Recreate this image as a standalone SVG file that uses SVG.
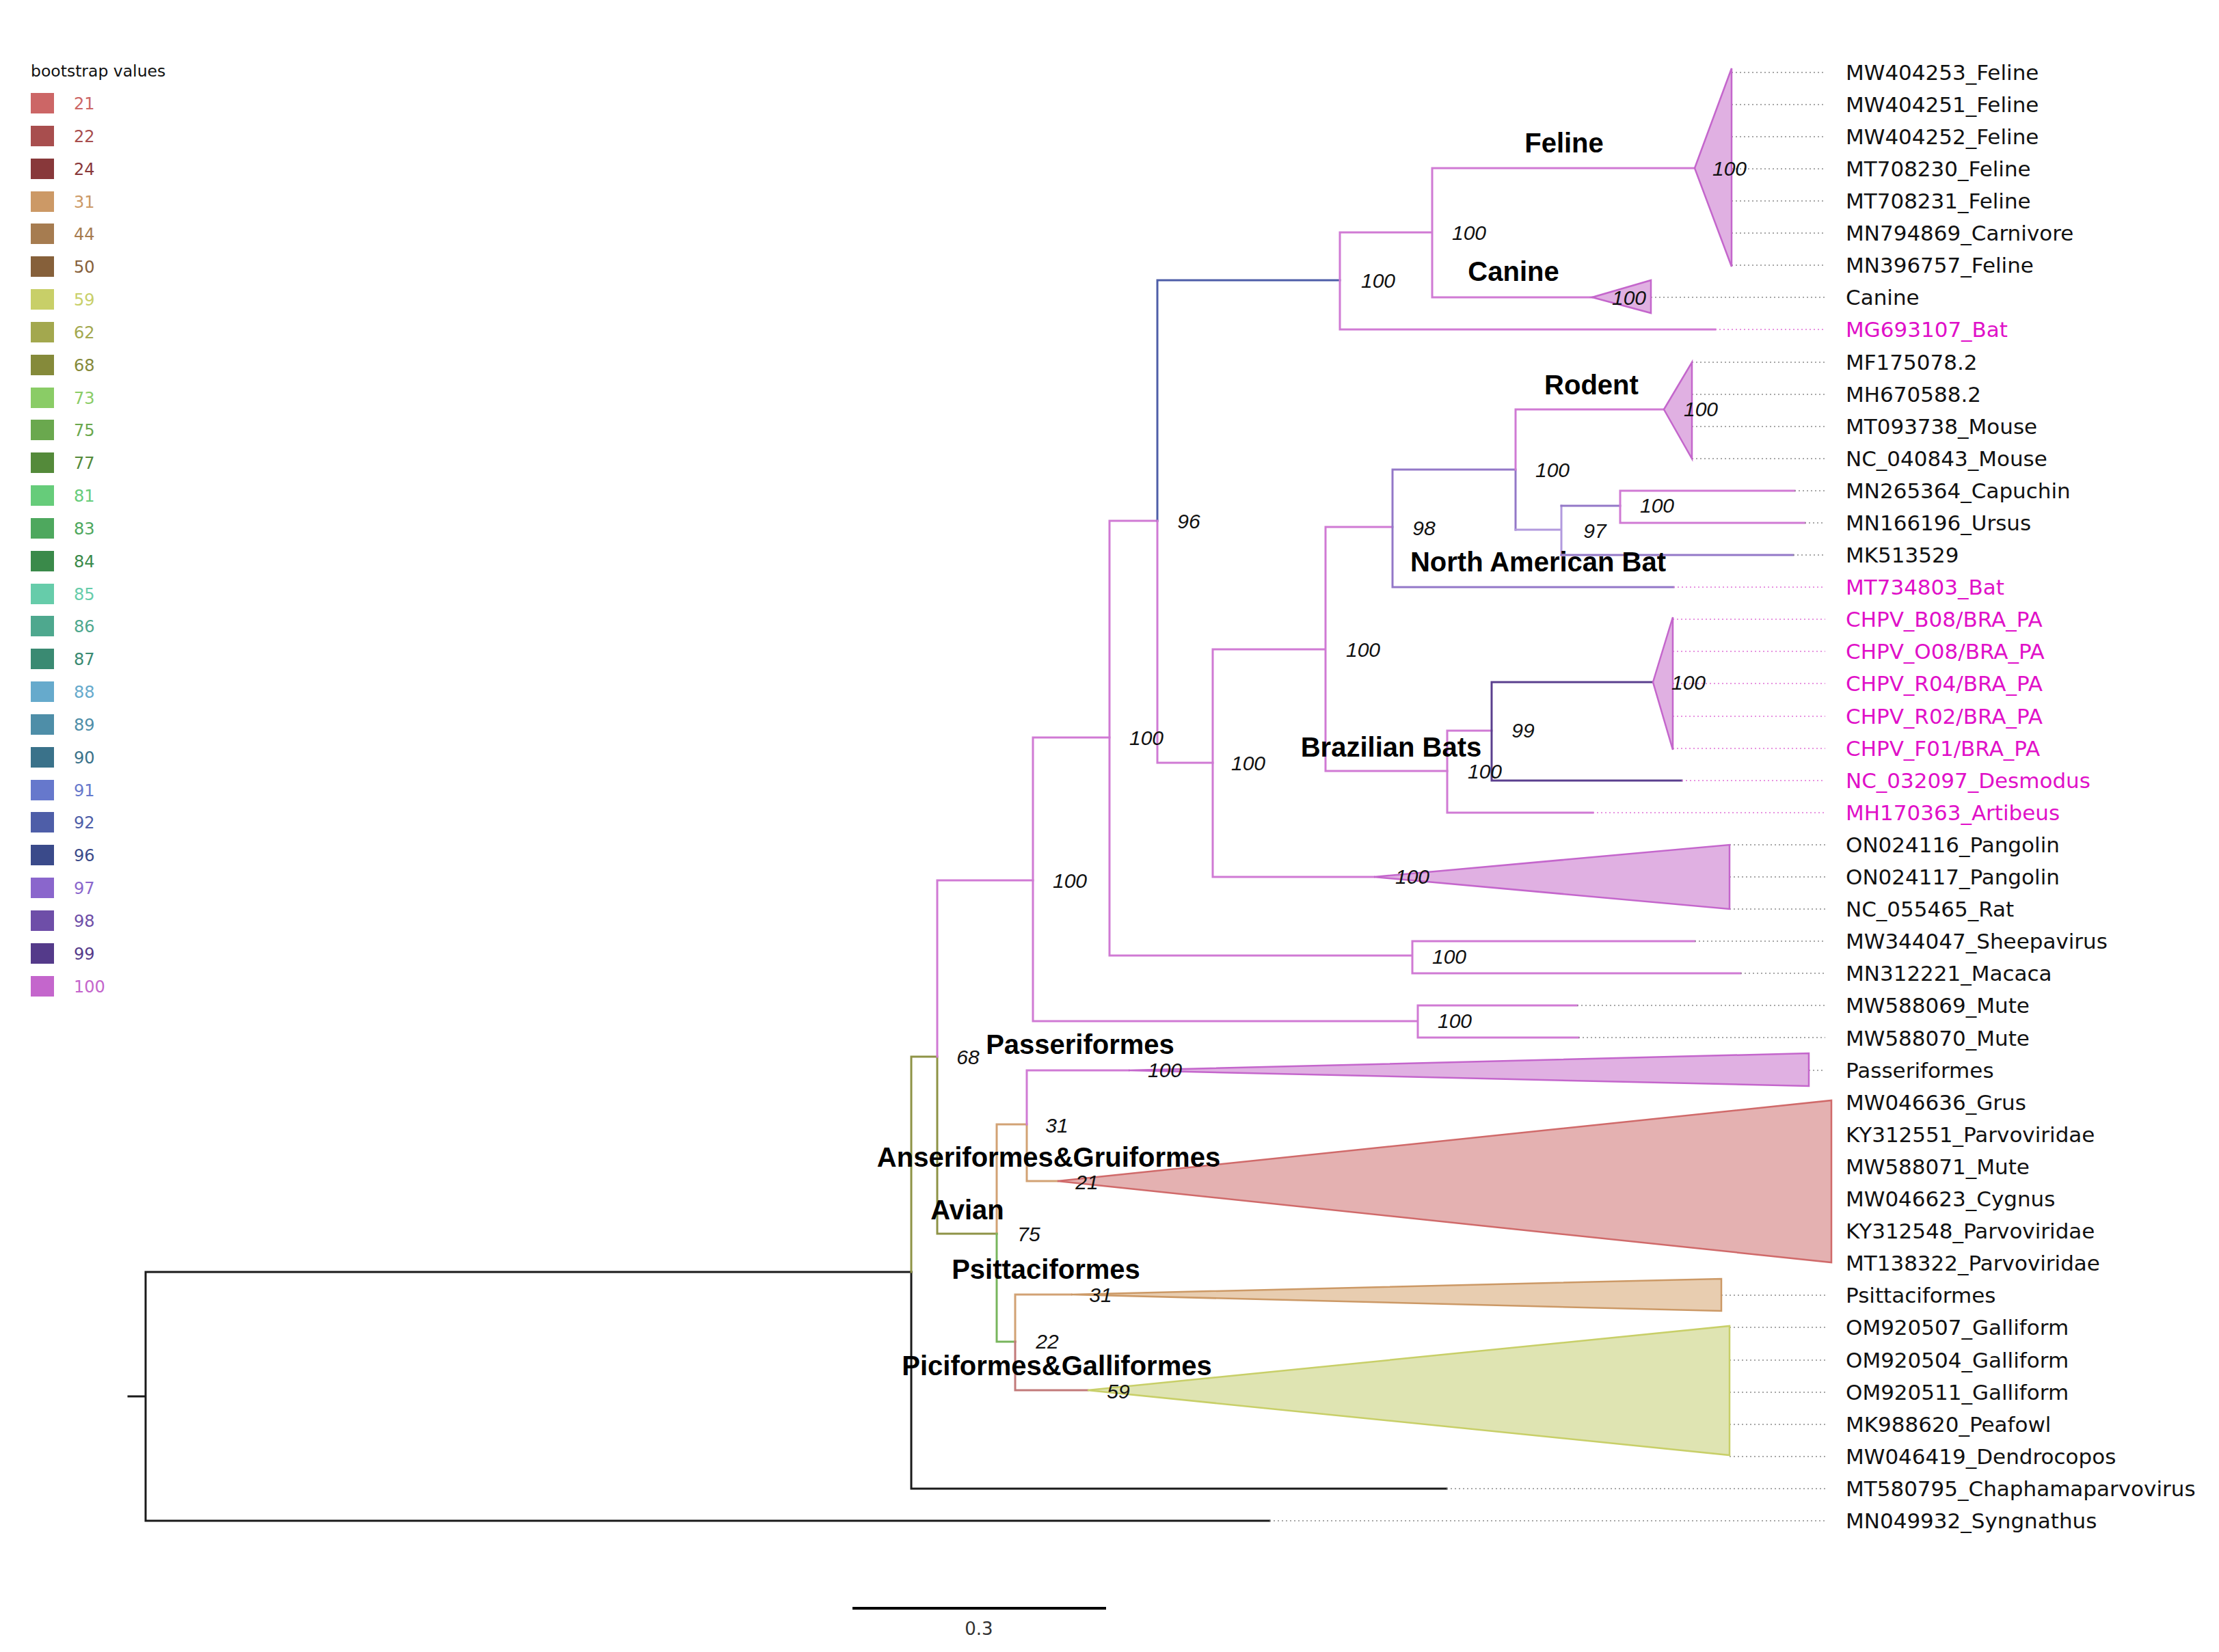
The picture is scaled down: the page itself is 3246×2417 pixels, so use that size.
<svg xmlns="http://www.w3.org/2000/svg" width="3246" height="2417" viewBox="0 0 3246 2417">
<style>
.br{fill:none;stroke-width:3;stroke-linecap:square}
.k{stroke:#1a1a1a}.p{stroke:#d07ad4}.b{stroke:#4e5ea8}.pu{stroke:#9378c8}.lpu{stroke:#b29ade}.dpu{stroke:#5a3f8e}
.ol{stroke:#8e9346}.tan{stroke:#d2a274}.gr{stroke:#78b55c}.rd{stroke:#c27a7a}
.ld{fill:none;stroke:#8a8a8a;stroke-width:1.6;stroke-dasharray:2 4}
.ldp{fill:none;stroke:#e070d6;stroke-width:1.6;stroke-dasharray:2 4}
.leaf{font-family:"DejaVu Sans",Verdana,sans-serif;font-size:31px;fill:#111}
.mag{fill:#e010c8}
.bs{font-family:"Liberation Sans",Arial,sans-serif;font-style:italic;font-size:30px;fill:#111;text-anchor:middle}
.cl{font-family:"Liberation Sans",Arial,sans-serif;font-weight:bold;font-size:40px;fill:#000;text-anchor:middle}
.lg{font-family:"DejaVu Sans",Verdana,sans-serif;font-size:24px}
.tp{fill:#e0b0e2;stroke:#c466cc;stroke-width:2.5}
.tr{fill:#e4b1b1;stroke:#d06a6a;stroke-width:2.5}
.tt{fill:#e8cdb0;stroke:#cc9966;stroke-width:2.5}
.ty{fill:#dfe4b2;stroke:#c8cf68;stroke-width:2.5}
</style>
<rect width="3246" height="2417" fill="#fff"/>

<g id="legend">
<text x="45" y="112" font-family="DejaVu Sans, Verdana, sans-serif" font-size="23.5" fill="#111">bootstrap values</text>
<g class="lg">
<rect x="45" y="136" width="34" height="30" fill="#cc6666"/><text x="108" y="160" fill="#cc6666">21</text>
<rect x="45" y="184" width="34" height="30" fill="#a84e4e"/><text x="108" y="208" fill="#a84e4e">22</text>
<rect x="45" y="232" width="34" height="30" fill="#88383a"/><text x="108" y="256" fill="#88383a">24</text>
<rect x="45" y="280" width="34" height="30" fill="#cc9966"/><text x="108" y="304" fill="#cc9966">31</text>
<rect x="45" y="327" width="34" height="30" fill="#a67c50"/><text x="108" y="351" fill="#a67c50">44</text>
<rect x="45" y="375" width="34" height="30" fill="#86603a"/><text x="108" y="399" fill="#86603a">50</text>
<rect x="45" y="423" width="34" height="30" fill="#c8cf68"/><text x="108" y="447" fill="#c8cf68">59</text>
<rect x="45" y="471" width="34" height="30" fill="#a3a84e"/><text x="108" y="495" fill="#a3a84e">62</text>
<rect x="45" y="519" width="34" height="30" fill="#858a3a"/><text x="108" y="543" fill="#858a3a">68</text>
<rect x="45" y="567" width="34" height="30" fill="#8acc66"/><text x="108" y="591" fill="#8acc66">73</text>
<rect x="45" y="614" width="34" height="30" fill="#6aa84e"/><text x="108" y="638" fill="#6aa84e">75</text>
<rect x="45" y="662" width="34" height="30" fill="#548a3a"/><text x="108" y="686" fill="#548a3a">77</text>
<rect x="45" y="710" width="34" height="30" fill="#66cc7a"/><text x="108" y="734" fill="#66cc7a">81</text>
<rect x="45" y="758" width="34" height="30" fill="#4ea85e"/><text x="108" y="782" fill="#4ea85e">83</text>
<rect x="45" y="806" width="34" height="30" fill="#3a8a4a"/><text x="108" y="830" fill="#3a8a4a">84</text>
<rect x="45" y="854" width="34" height="30" fill="#66ccaa"/><text x="108" y="878" fill="#66ccaa">85</text>
<rect x="45" y="901" width="34" height="30" fill="#4ea88e"/><text x="108" y="925" fill="#4ea88e">86</text>
<rect x="45" y="949" width="34" height="30" fill="#3a8a72"/><text x="108" y="973" fill="#3a8a72">87</text>
<rect x="45" y="997" width="34" height="30" fill="#66aacc"/><text x="108" y="1021" fill="#66aacc">88</text>
<rect x="45" y="1045" width="34" height="30" fill="#4e8ea8"/><text x="108" y="1069" fill="#4e8ea8">89</text>
<rect x="45" y="1093" width="34" height="30" fill="#3a728a"/><text x="108" y="1117" fill="#3a728a">90</text>
<rect x="45" y="1141" width="34" height="30" fill="#6678cc"/><text x="108" y="1165" fill="#6678cc">91</text>
<rect x="45" y="1188" width="34" height="30" fill="#4e5ea8"/><text x="108" y="1212" fill="#4e5ea8">92</text>
<rect x="45" y="1236" width="34" height="30" fill="#3a4a8a"/><text x="108" y="1260" fill="#3a4a8a">96</text>
<rect x="45" y="1284" width="34" height="30" fill="#8a66cc"/><text x="108" y="1308" fill="#8a66cc">97</text>
<rect x="45" y="1332" width="34" height="30" fill="#6e4ea8"/><text x="108" y="1356" fill="#6e4ea8">98</text>
<rect x="45" y="1380" width="34" height="30" fill="#543a8a"/><text x="108" y="1404" fill="#543a8a">99</text>
<rect x="45" y="1428" width="34" height="30" fill="#c466cc"/><text x="108" y="1452" fill="#c466cc">100</text>
</g>
</g>

<g id="connectors">
<path class="br k" d="M188,2043H213M213,1861V2225M213,1861H1333M213,2225H1857"/>
<path class="br k" d="M1333,1861V2178H2116"/>
<path class="br ol" d="M1333,1861V1546H1371M1371,1546V1805H1458"/>
<path class="br p" d="M1371,1546V1288H1511"/>
<path class="br p" d="M1511,1079V1494M1511,1079H1623M1511,1494H2074M2074,1471V1518M2074,1471H2307M2074,1518H2309"/>
<path class="br p" d="M1623,762V1398M1623,762H1693M1623,1398H2066M2066,1377V1424M2066,1377H2479M2066,1424H2546"/>
<path class="br b" d="M1693,762V410H1960"/>
<path class="br p" d="M1693,762V1116H1774"/>
<path class="br p" d="M1960,340V482M1960,340H2095M1960,482H2509M2095,246V435M2095,246H2479M2095,435H2329"/>
<path class="br p" d="M1774,950V1283M1774,950H1939M1774,1283H2010M1939,771V1128M1939,771H2037M1939,1128H2117"/>
<path class="br pu" d="M2037,687V859M2037,687H2217M2037,859H2448M2217,687V775"/>
<path class="br p" d="M2217,687V599H2434"/>
<path class="br lpu" d="M2217,775H2284M2284,740V812"/>
<path class="br pu" d="M2284,740H2370M2284,812H2623"/>
<path class="br p" d="M2370,718V765M2370,718H2625M2370,765H2640"/>
<path class="br p" d="M2117,1069V1189M2117,1069H2182M2117,1189H2330"/>
<path class="br dpu" d="M2182,998V1142M2182,998H2418M2182,1142H2460"/>
<path class="br tan" d="M1458,1805V1645H1502M1502,1645V1728H1547"/>
<path class="br p" d="M1502,1645V1566H1651"/>
<path class="br gr" d="M1458,1805V1963H1485"/>
<path class="br tan" d="M1485,1963V1894H1567"/>
<path class="br rd" d="M1485,1963V2034H1591"/>
<path class="ld" d="M2533,106H2670M2533,153H2670M2533,200H2670M2533,247H2670M2533,294H2670M2533,341H2670M2533,388H2670M2415,435H2670M2475,530H2670M2475,577H2670M2475,624H2670M2475,671H2670M2625,718H2670M2640,765H2670M2623,812H2670M2530,1236H2670M2530,1283H2670M2530,1330H2670M2479,1377H2670M2546,1424H2670M2307,1471H2670M2309,1518H2670M2646,1566H2670M2518,1895H2670M2530,1942H2670M2530,1990H2670M2530,2037H2670M2530,2084H2670M2530,2131H2670M2116,2178H2670M1857,2225H2670"/>
<path class="ldp" d="M2509,482H2670M2448,859H2670M2447,906H2670M2447,953H2670M2447,1000H2670M2447,1048H2670M2447,1095H2670M2460,1142H2670M2330,1189H2670"/>
<path d="M1247,2353H1618" stroke="#000" stroke-width="4"/>
</g>

<g id="clade-feline"><polygon class="tp" points="2479,246 2533,100 2533,390"/><text class="cl" x="2288" y="223">Feline</text></g>
<g id="clade-canine"><polygon class="tp" points="2329,435 2415,410 2415,458"/><text class="cl" x="2214" y="411">Canine</text></g>
<g id="clade-rodent"><polygon class="tp" points="2434,599 2475,530 2475,671"/><text class="cl" x="2328" y="577">Rodent</text></g>
<g id="clade-chpv"><polygon class="tp" points="2418,998 2447,903 2447,1097"/></g>
<g id="clade-pangolin"><polygon class="tp" points="2010,1283 2530,1236 2530,1330"/></g>
<g id="clade-passeriformes"><polygon class="tp" points="1651,1566 2646,1541 2646,1589"/><text class="cl" x="1580" y="1542">Passeriformes</text></g>
<g id="clade-anseriformes"><polygon class="tr" points="1547,1728 2679,1610 2679,1847"/><text class="cl" x="1534" y="1707">Anseriformes&amp;Gruiformes</text></g>
<g id="clade-psittaciformes"><polygon class="tt" points="1567,1894 2518,1871 2518,1918"/><text class="cl" x="1530" y="1871">Psittaciformes</text></g>
<g id="clade-piciformes"><polygon class="ty" points="1591,2034 2530,1940 2530,2129"/><text class="cl" x="1546" y="2012">Piciformes&amp;Galliformes</text></g>
<g id="label-avian"><text class="cl" x="1415" y="1784">Avian</text></g>
<g id="label-nabat"><text class="cl" x="2250" y="836">North American Bat</text></g>
<g id="label-brbats"><text class="cl" x="2035" y="1107">Brazilian Bats</text></g>

<g id="bootstrap">
<text class="bs" x="2530" y="257">100</text>
<text class="bs" x="2149" y="351">100</text>
<text class="bs" x="2016" y="421">100</text>
<text class="bs" x="2383" y="446">100</text>
<text class="bs" x="2488" y="609">100</text>
<text class="bs" x="2271" y="698">100</text>
<text class="bs" x="2424" y="750">100</text>
<text class="bs" x="2333" y="787">97</text>
<text class="bs" x="2083" y="783">98</text>
<text class="bs" x="1739" y="773">96</text>
<text class="bs" x="1994" y="961">100</text>
<text class="bs" x="2470" y="1009">100</text>
<text class="bs" x="2228" y="1079">99</text>
<text class="bs" x="1677" y="1090">100</text>
<text class="bs" x="1826" y="1127">100</text>
<text class="bs" x="2172" y="1139">100</text>
<text class="bs" x="2066" y="1293">100</text>
<text class="bs" x="1565" y="1299">100</text>
<text class="bs" x="2120" y="1410">100</text>
<text class="bs" x="2128" y="1504">100</text>
<text class="bs" x="1416" y="1557">68</text>
<text class="bs" x="1704" y="1576">100</text>
<text class="bs" x="1546" y="1657">31</text>
<text class="bs" x="1590" y="1740">21</text>
<text class="bs" x="1505" y="1816">75</text>
<text class="bs" x="1610" y="1905">31</text>
<text class="bs" x="1532" y="1973">22</text>
<text class="bs" x="1636" y="2046">59</text>
</g>

<g id="leaves">
<g id="leaf-MW404253"><text class="leaf" x="2700" y="117">MW404253_Feline</text></g>
<g id="leaf-MW404251"><text class="leaf" x="2700" y="164">MW404251_Feline</text></g>
<g id="leaf-MW404252"><text class="leaf" x="2700" y="211">MW404252_Feline</text></g>
<g id="leaf-MT708230"><text class="leaf" x="2700" y="258">MT708230_Feline</text></g>
<g id="leaf-MT708231"><text class="leaf" x="2700" y="305">MT708231_Feline</text></g>
<g id="leaf-MN794869"><text class="leaf" x="2700" y="352">MN794869_Carnivore</text></g>
<g id="leaf-MN396757"><text class="leaf" x="2700" y="399">MN396757_Feline</text></g>
<g id="leaf-Canine"><text class="leaf" x="2700" y="446">Canine</text></g>
<g id="leaf-MG693107"><text class="leaf mag" x="2700" y="493">MG693107_Bat</text></g>
<g id="leaf-MF175078"><text class="leaf" x="2700" y="541">MF175078.2</text></g>
<g id="leaf-MH670588"><text class="leaf" x="2700" y="588">MH670588.2</text></g>
<g id="leaf-MT093738"><text class="leaf" x="2700" y="635">MT093738_Mouse</text></g>
<g id="leaf-NC_040843"><text class="leaf" x="2700" y="682">NC_040843_Mouse</text></g>
<g id="leaf-MN265364"><text class="leaf" x="2700" y="729">MN265364_Capuchin</text></g>
<g id="leaf-MN166196"><text class="leaf" x="2700" y="776">MN166196_Ursus</text></g>
<g id="leaf-MK513529"><text class="leaf" x="2700" y="823">MK513529</text></g>
<g id="leaf-MT734803"><text class="leaf mag" x="2700" y="870">MT734803_Bat</text></g>
<g id="leaf-CHPV_B08"><text class="leaf mag" x="2700" y="917">CHPV_B08/BRA_PA</text></g>
<g id="leaf-CHPV_O08"><text class="leaf mag" x="2700" y="964">CHPV_O08/BRA_PA</text></g>
<g id="leaf-CHPV_R04"><text class="leaf mag" x="2700" y="1011">CHPV_R04/BRA_PA</text></g>
<g id="leaf-CHPV_R02"><text class="leaf mag" x="2700" y="1059">CHPV_R02/BRA_PA</text></g>
<g id="leaf-CHPV_F01"><text class="leaf mag" x="2700" y="1106">CHPV_F01/BRA_PA</text></g>
<g id="leaf-NC_032097"><text class="leaf mag" x="2700" y="1153">NC_032097_Desmodus</text></g>
<g id="leaf-MH170363"><text class="leaf mag" x="2700" y="1200">MH170363_Artibeus</text></g>
<g id="leaf-ON024116"><text class="leaf" x="2700" y="1247">ON024116_Pangolin</text></g>
<g id="leaf-ON024117"><text class="leaf" x="2700" y="1294">ON024117_Pangolin</text></g>
<g id="leaf-NC_055465"><text class="leaf" x="2700" y="1341">NC_055465_Rat</text></g>
<g id="leaf-MW344047"><text class="leaf" x="2700" y="1388">MW344047_Sheepavirus</text></g>
<g id="leaf-MN312221"><text class="leaf" x="2700" y="1435">MN312221_Macaca</text></g>
<g id="leaf-MW588069"><text class="leaf" x="2700" y="1482">MW588069_Mute</text></g>
<g id="leaf-MW588070"><text class="leaf" x="2700" y="1530">MW588070_Mute</text></g>
<g id="leaf-Passeriformes"><text class="leaf" x="2700" y="1577">Passeriformes</text></g>
<g id="leaf-MW046636"><text class="leaf" x="2700" y="1624">MW046636_Grus</text></g>
<g id="leaf-KY312551"><text class="leaf" x="2700" y="1671">KY312551_Parvoviridae</text></g>
<g id="leaf-MW588071"><text class="leaf" x="2700" y="1718">MW588071_Mute</text></g>
<g id="leaf-MW046623"><text class="leaf" x="2700" y="1765">MW046623_Cygnus</text></g>
<g id="leaf-KY312548"><text class="leaf" x="2700" y="1812">KY312548_Parvoviridae</text></g>
<g id="leaf-MT138322"><text class="leaf" x="2700" y="1859">MT138322_Parvoviridae</text></g>
<g id="leaf-Psittaciformes"><text class="leaf" x="2700" y="1906">Psittaciformes</text></g>
<g id="leaf-OM920507"><text class="leaf" x="2700" y="1953">OM920507_Galliform</text></g>
<g id="leaf-OM920504"><text class="leaf" x="2700" y="2001">OM920504_Galliform</text></g>
<g id="leaf-OM920511"><text class="leaf" x="2700" y="2048">OM920511_Galliform</text></g>
<g id="leaf-MK988620"><text class="leaf" x="2700" y="2095">MK988620_Peafowl</text></g>
<g id="leaf-MW046419"><text class="leaf" x="2700" y="2142">MW046419_Dendrocopos</text></g>
<g id="leaf-MT580795"><text class="leaf" x="2700" y="2189">MT580795_Chaphamaparvovirus</text></g>
<g id="leaf-MN049932"><text class="leaf" x="2700" y="2236">MN049932_Syngnathus</text></g>
</g>

<g id="scale"><text x="1432" y="2392" font-family="DejaVu Sans, Verdana, sans-serif" font-size="26" fill="#333" text-anchor="middle">0.3</text></g>
</svg>
